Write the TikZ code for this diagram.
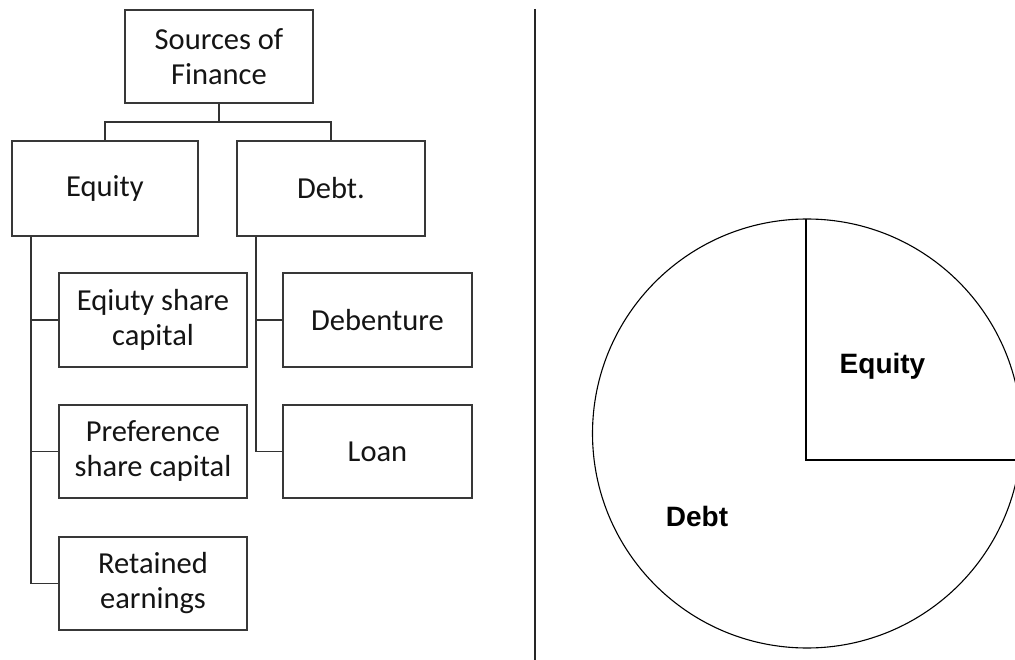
\documentclass[tikz,border=0pt]{standalone}
\usepackage{fontspec}
\setmainfont{Carlito}
\newfontfamily\labelfont{Liberation Sans}
\begin{document}
\begin{tikzpicture}[x=1pt,y=-1pt,
  orgbox/.style={draw=black!78,line width=2pt,inner sep=0pt,align=center,
    text=black!92,font=\fontsize{30.5}{35}\selectfont},
  link/.style={draw=black!80,line width=1.6pt},
  pie/.style={draw=black,line width=1.1pt},
  pielabel/.style={font=\labelfont\bfseries\fontsize{28}{32}\selectfont,text=black,inner sep=0pt}]
\useasboundingbox (0,0) rectangle (1015,660);

% ---- organisation chart ----
\node[orgbox,minimum width=188pt,minimum height=93pt] (src) at (219,56.5) {Sources of\\Finance};
\node[orgbox,minimum width=186pt,minimum height=95pt] (eq) at (105,188.5) {Equity};
\node[orgbox,minimum width=188pt,minimum height=95pt] (debt) at (331,188.5) {Debt.};

\node[orgbox,minimum width=188pt,minimum height=94pt] (esc) at (153,320) {Eqiuty share\\capital};
\node[orgbox,minimum width=188pt,minimum height=93pt] (psc) at (153,451.5) {Preference\\share capital};
\node[orgbox,minimum width=188pt,minimum height=93pt] (re) at (153,583.5) {Retained\\earnings};

\node[orgbox,minimum width=189pt,minimum height=94pt] (deb) at (377.5,320) {Debenture};
\node[orgbox,minimum width=189pt,minimum height=93pt] (loan) at (377.5,451.5) {Loan};

% top split
\coordinate (split) at (219,122);
\draw[link] (src.south) -- (split);
\draw[link] (split) -| (eq.north);
\draw[link] (split) -| (debt.north);

% spines down the left side of each branch
\coordinate (eqspine) at ([xshift=20pt]eq.south west);
\coordinate (dtspine) at ([xshift=20pt]debt.south west);
\draw[link] (eqspine) |- (esc.west);
\draw[link] (eqspine) |- (psc.west);
\draw[link] (eqspine) |- (re.west);
\draw[link] (dtspine) |- (deb.west);
\draw[link] (dtspine) |- (loan.west);

% ---- divider ----
\coordinate (divtop) at (535,9);
\coordinate (divbot) at (535,660);
\draw[line width=1.4pt,black!85] (divtop) -- (divbot);

% ---- pie chart ----
\begin{scope}
\clip (540,0) rectangle (1015,660);
\coordinate (pc) at (807,433.5);
\coordinate (hub) at (806,460);
\coordinate (ptop) at (806,219);
\coordinate (pright) at (1020,460);
\draw[pie] (pc) circle (214.5);
\draw[pie] (ptop) -- (hub) -- (pright);
\end{scope}
\node[pielabel] (leq) at (882.5,366) {Equity};
\node[pielabel] (ldebt) at (697,516) {Debt};
\end{tikzpicture}
\end{document}
